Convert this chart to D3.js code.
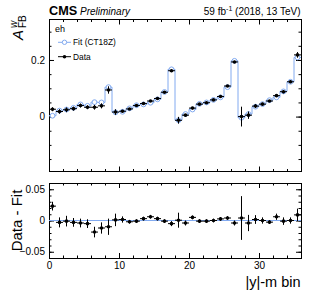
<!DOCTYPE html>
<html>
<head>
<meta charset="utf-8">
<script src="https://cdn.jsdelivr.net/npm/d3@7"></script>
<style>
  body { margin: 0; background: #fff; }
  text { font-family: "Liberation Sans", Arial, sans-serif; }
</style>
</head>
<body>
<svg id="chart" width="312" height="299"></svg>
<script>
// bin index 0..35 (|y|-m bins)
const bins = d3.range(36);

// measured A_FB in each bin
const dataValues = [0.026, 0.018, 0.024, 0.028, 0.039, 0.033, 0.033, 0.038, 0.094,
    0.016, 0.019, 0.027, 0.039, 0.046, 0.055, 0.064, 0.086, 0.162,
    -0.013, 0.005, 0.030, 0.044, 0.049, 0.059, 0.071, 0.108, 0.193,
    0.000, 0.005, 0.037, 0.044, 0.055, 0.074, 0.088, 0.123, 0.218];

// fit (CT18Z) prediction
const fitValues = [0.003, 0.021, 0.025, 0.031, 0.043, 0.038, 0.051, 0.050, 0.104,
    0.015, 0.017, 0.029, 0.040, 0.043, 0.049, 0.061, 0.087, 0.167,
    -0.013, 0.009, 0.025, 0.045, 0.050, 0.059, 0.068, 0.104, 0.197,
    -0.004, 0.009, 0.035, 0.044, 0.058, 0.068, 0.089, 0.123, 0.209];

// data - fit
const residValues = [0.023, -0.003, -0.001, -0.003, -0.004, -0.005, -0.0185, -0.012, -0.010,
    0.001, 0.0016, -0.002, -0.001, 0.003, 0.006, 0.003, -0.001, -0.005,
    0.0005, -0.004, 0.005, -0.001, -0.001, 0.000, 0.0026, 0.004, -0.004,
    0.004, -0.004, 0.0016, 0.000, -0.0026, 0.006, -0.001, 0.000, 0.009];

// data uncertainty
const errValues = [0.007, 0.008, 0.0085, 0.007, 0.007, 0.007, 0.0085, 0.009, 0.013,
    0.010, 0.005, 0.003, 0.003, 0.003, 0.003, 0.003, 0.003, 0.004,
    0.012, 0.004, 0.003, 0.003, 0.003, 0.003, 0.003, 0.003, 0.004,
    0.035, 0.013, 0.007, 0.005, 0.003, 0.005, 0.006, 0.005, 0.010];

const xMajor = [0, 10, 20, 30];
const xMinor = d3.range(0, 37, 2);
const yTopMajor = [0, 0.2];
const yTopMinor = d3.range(-0.15, 0.35, 0.05);
const yBotMajor = [-0.05, 0, 0.05];
const yBotMinor = d3.range(-0.06, 0.061, 0.01);

const fitColor = '#82aaf0';
const left = 49, right = 301;
const topY0 = 19.5, topY1 = 171.5;
const botY0 = 183, botY1 = 258;

const svg = d3.select('#chart');

let x = d3.scaleLinear().domain([0, 36]).range([left, right]);
let yTop = d3.scaleLinear().domain([-0.194, 0.343]).range([topY1, topY0]);
let yBot = d3.scaleLinear().domain([-0.06, 0.06]).range([botY1, botY0]);

function drawTicks(g, axis, values, size, format) {
    g.call(axis.tickValues(values).tickSize(-size).tickSizeOuter(0)
        .tickPadding(4).tickFormat(format || ''));
    g.select('.domain').remove();
    g.selectAll('line').attr('stroke', '#000');
    g.selectAll('text').attr('font-size', 10).attr('fill', '#000');
}

function drawFrame(y0, y1, yScale, yMajor, yMinor, yFmt, xLabels) {
    let g = svg.append('g');
    g.append('rect')
        .attr('x', left).attr('y', y0)
        .attr('width', right - left).attr('height', y1 - y0)
        .attr('fill', 'none').attr('stroke', '#000')
        .attr('shape-rendering', 'crispEdges');

    // x ticks bottom / top
    drawTicks(g.append('g').attr('transform', 'translate(0,' + y1 + ')'), d3.axisBottom(x), xMinor, 2.5);
    drawTicks(g.append('g').attr('transform', 'translate(0,' + y1 + ')'), d3.axisBottom(x), xMajor, 5,
        xLabels ? d3.format('d') : null);
    drawTicks(g.append('g').attr('transform', 'translate(0,' + y0 + ')'), d3.axisTop(x), xMinor, 2.5);
    drawTicks(g.append('g').attr('transform', 'translate(0,' + y0 + ')'), d3.axisTop(x), xMajor, 5);

    // y ticks left / right
    drawTicks(g.append('g').attr('transform', 'translate(' + left + ',0)'), d3.axisLeft(yScale), yMinor, 2.5);
    drawTicks(g.append('g').attr('transform', 'translate(' + left + ',0)'), d3.axisLeft(yScale), yMajor, 5, yFmt);
    drawTicks(g.append('g').attr('transform', 'translate(' + right + ',0)'), d3.axisRight(yScale), yMinor, 2.5);
    drawTicks(g.append('g').attr('transform', 'translate(' + right + ',0)'), d3.axisRight(yScale), yMajor, 5);
}

function drawData(g, yScale, values) {
    let pts = g.append('g').selectAll('g').data(bins).join('g');
    pts.append('line')
        .attr('x1', (i) => x(i)).attr('x2', (i) => x(i + 1))
        .attr('y1', (i) => yScale(values[i])).attr('y2', (i) => yScale(values[i]))
        .attr('stroke', '#000').attr('stroke-width', 1);
    pts.append('line')
        .attr('x1', (i) => x(i + 0.5)).attr('x2', (i) => x(i + 0.5))
        .attr('y1', (i) => yScale(values[i] - errValues[i]))
        .attr('y2', (i) => yScale(values[i] + errValues[i]))
        .attr('stroke', '#000').attr('stroke-width', 1);
    pts.append('circle')
        .attr('cx', (i) => x(i + 0.5)).attr('cy', (i) => yScale(values[i]))
        .attr('r', 1.8).attr('fill', '#000');
}

// ---- top panel ----
let fmtTop = (d) => d === 0 ? '0' : d3.format('.1f')(d);
drawFrame(topY0, topY1, yTop, yTopMajor, yTopMinor, fmtTop, false);

let topG = svg.append('g');
let stepPts = [];
bins.forEach((i) => {
    stepPts.push([i, fitValues[i]]);
    stepPts.push([i + 1, fitValues[i]]);
});
topG.append('path')
    .attr('d', d3.line().x((p) => x(p[0])).y((p) => yTop(p[1]))(stepPts))
    .attr('fill', 'none').attr('stroke', fitColor).attr('stroke-width', 1);
topG.append('g').selectAll('circle').data(bins).join('circle')
    .attr('cx', (i) => x(i + 0.5)).attr('cy', (i) => yTop(fitValues[i]))
    .attr('r', 2.4).attr('fill', '#fff').attr('stroke', fitColor).attr('stroke-width', 1);
drawData(topG, yTop, dataValues);

// legend
svg.append('text').attr('x', 55).attr('y', 32).attr('font-size', 9).text('eh');
let lg = svg.append('g');
lg.append('line').attr('x1', 58).attr('x2', 71).attr('y1', 42.3).attr('y2', 42.3)
    .attr('stroke', fitColor);
lg.append('circle').attr('cx', 64.5).attr('cy', 42.3).attr('r', 2.2)
    .attr('fill', '#fff').attr('stroke', fitColor);
lg.append('text').attr('x', 73).attr('y', 45.3).attr('font-size', 8.4).text('Fit (CT18Z)');
lg.append('line').attr('x1', 58).attr('x2', 71).attr('y1', 56.7).attr('y2', 56.7)
    .attr('stroke', '#000');
lg.append('circle').attr('cx', 64.5).attr('cy', 56.7).attr('r', 1.8).attr('fill', '#000');
lg.append('text').attr('x', 73).attr('y', 59.7).attr('font-size', 8.4).text('Data');

// ---- bottom panel ----
let fmtBot = (d) => d === 0 ? '0' : d3.format('.2f')(d);
drawFrame(botY0, botY1, yBot, yBotMajor, yBotMinor, fmtBot, true);
let botG = svg.append('g');
botG.append('line')
    .attr('x1', x(0)).attr('x2', x(36)).attr('y1', yBot(0)).attr('y2', yBot(0))
    .attr('stroke', fitColor).attr('stroke-width', 1);
drawData(botG, yBot, residValues);

// ---- titles ----
svg.append('text').attr('x', 49).attr('y', 15)
    .attr('font-size', 12.7).attr('font-weight', 'bold').text('CMS');
svg.append('text').attr('x', 80).attr('y', 15)
    .attr('font-size', 10).attr('font-style', 'italic').text('Preliminary');

let lumi = svg.append('text').attr('x', 300.5).attr('y', 15)
    .attr('font-size', 10).attr('text-anchor', 'end');
lumi.append('tspan').text('59 fb');
lumi.append('tspan').attr('font-size', 7).attr('dy', -4).text('-1');
lumi.append('tspan').attr('dy', 4).text(' (2018, 13 TeV)');

// y title top: A_FB^w
let yt = svg.append('g').attr('transform', 'translate(23,40) rotate(-90)');
yt.append('text').attr('x', 0).attr('y', 0).attr('font-size', 15)
    .attr('font-style', 'italic').text('A');
yt.append('text').attr('x', 12).attr('y', -6.5).attr('font-size', 10)
    .attr('font-style', 'italic').text('w');
yt.append('text').attr('x', 12).attr('y', 2.5).attr('font-size', 10).text('FB');

// y title bottom
svg.append('text')
    .attr('transform', 'translate(22,' + yBot(0) + ') rotate(-90)')
    .attr('text-anchor', 'middle').attr('font-size', 15).text('Data - Fit');

// x title
svg.append('text').attr('x', 300.5).attr('y', 287)
    .attr('text-anchor', 'end').attr('font-size', 14.5).text('|y|-m bin');
</script>
</body>
</html>
